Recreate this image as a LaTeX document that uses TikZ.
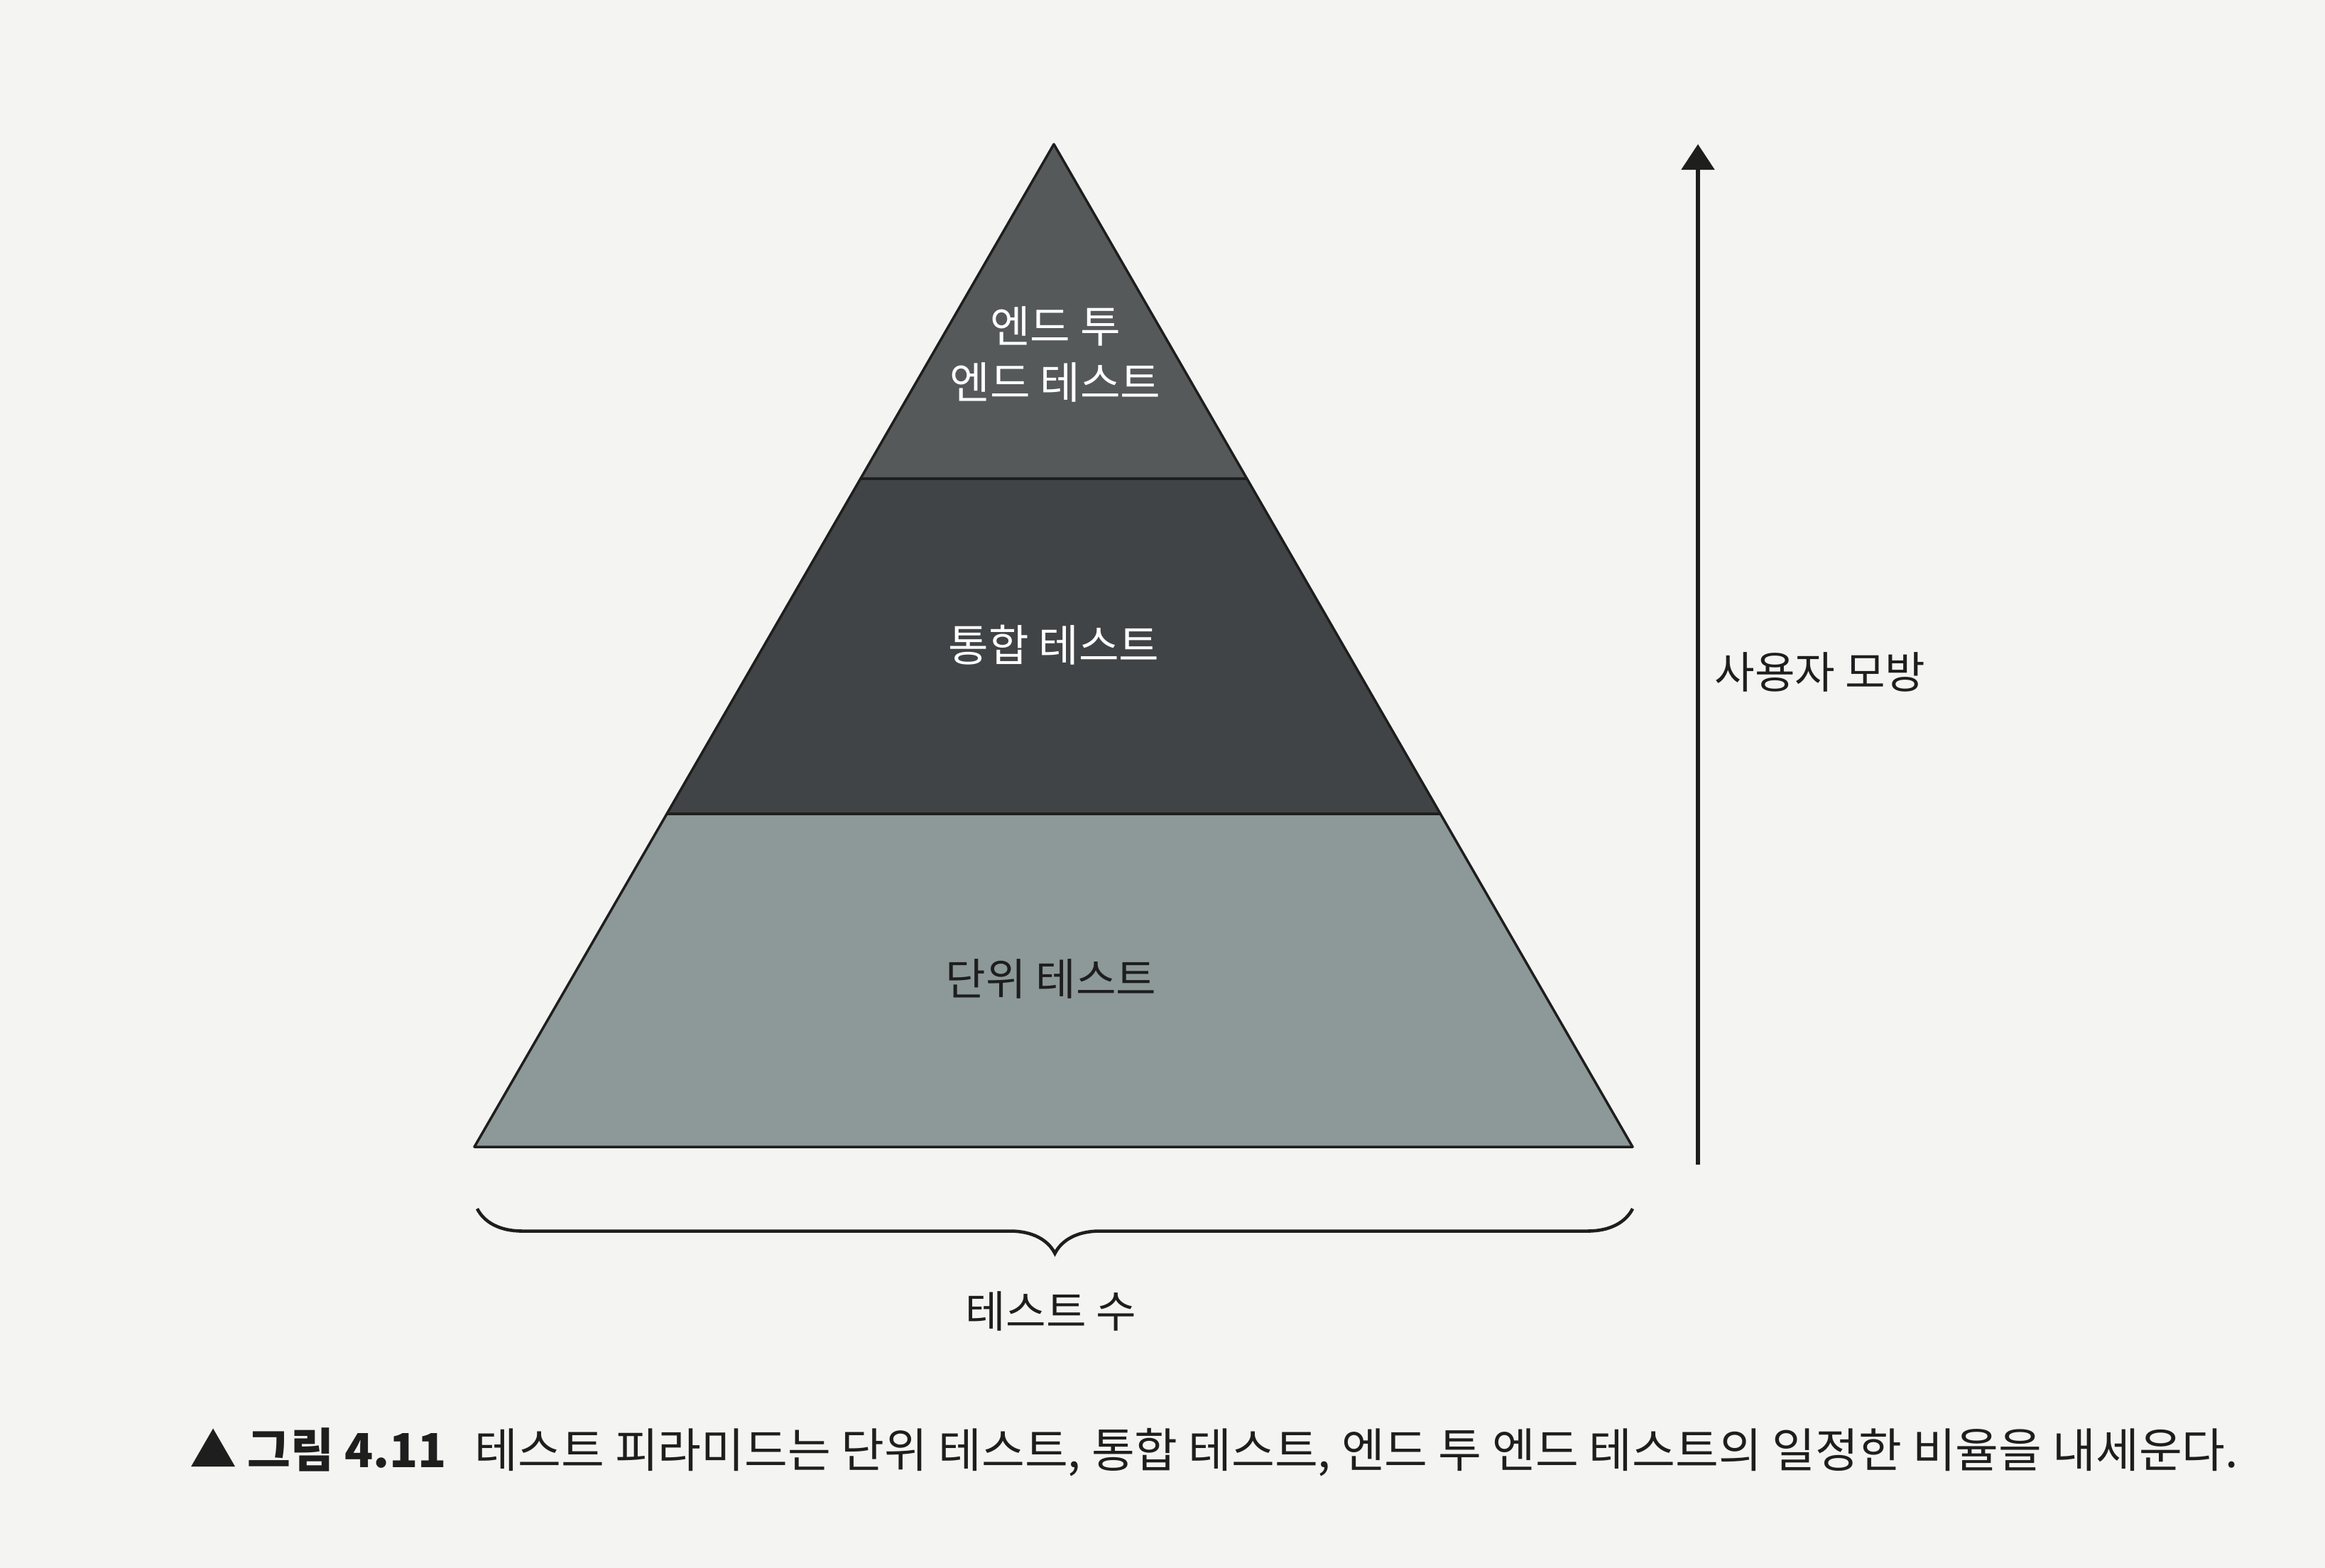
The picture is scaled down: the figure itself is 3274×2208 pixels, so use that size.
\documentclass[tikz,border=0pt]{standalone}
\usepackage{fontspec}
\setmainfont{Noto Sans CJK KR}
\usetikzlibrary{arrows.meta,positioning,calc,decorations.pathreplacing}
\definecolor{pagegray}{HTML}{F4F4F2}
\definecolor{layertop}{HTML}{56595A}
\definecolor{layermid}{HTML}{414446}
\definecolor{layerbase}{HTML}{8D9898}
\definecolor{inkblack}{HTML}{1E1E1E}
\tikzset{
  layer/.style={
    draw=inkblack,
    line width=1pt,
    line join=round
  },
  lighttext/.style={
    text=white,
    align=center,
    font=\fontsize{17.5}{22.7}\selectfont
  },
  darktext/.style={
    text=inkblack,
    align=center,
    font=\fontsize{17.5}{22.7}\selectfont
  },
  axisline/.style={-{Triangle[length=3.6mm, width=4.6mm]}, line width=1.5pt, draw=inkblack},
  countbrace/.style={decorate, decoration={brace, mirror, amplitude=6.3mm}, line width=1.3pt, draw=inkblack},
  captiontext/.style={text=inkblack, anchor=west, font=\fontsize{18.8}{23}\selectfont}
}

\begin{document}
\begin{tikzpicture}[x=0.01cm, y=-0.01cm]
  \fill[pagegray] (0,0) rectangle (3274,2208);

  % pyramid corners
  \coordinate (apex) at (1484,203);
  \coordinate (baseL) at (668,1615);
  \coordinate (baseR) at (2299,1615);
  \coordinate (topL) at ($(apex)!0.3336!(baseL)$);
  \coordinate (topR) at ($(apex)!0.3336!(baseR)$);
  \coordinate (midL) at ($(apex)!0.668!(baseL)$);
  \coordinate (midR) at ($(apex)!0.668!(baseR)$);

  \filldraw[layer, fill=layertop] (apex) -- (topR) -- (topL) -- cycle;
  \filldraw[layer, fill=layermid] (topL) -- (topR) -- (midR) -- (midL) -- cycle;
  \filldraw[layer, fill=layerbase] (midL) -- (midR) -- (baseR) -- (baseL) -- cycle;

  \node[lighttext] (e2e) at (1486,499) {엔드 투\\엔드 테스트};
  \node[lighttext] (integ) at (1484,908) {통합 테스트};
  \node[darktext] (unit) at (1480,1378) {단위 테스트};

  % user mimic axis
  \coordinate (arrowfoot) at (2391,1640);
  \coordinate (arrowtip) at (2391,203);
  \draw[axisline] (arrowfoot) -- (arrowtip);
  \node[darktext, anchor=west] (mimic) at (2402,946) {사용자 모방};

  % number of tests
  \coordinate (braceL) at (672,1702);
  \coordinate (braceR) at (2299,1702);
  \draw[countbrace] (braceL) -- (braceR);
  \node[darktext] (count) at (1480,1846) {테스트 수};

  \node[captiontext] (caption) at (255,2045) {▲ \textbf{그림 4.11}\hspace{0.6em}테스트 피라미드는 단위 테스트, 통합 테스트, 엔드 투 엔드 테스트의 일정한 비율을 내세운다.};
\end{tikzpicture}
\end{document}
